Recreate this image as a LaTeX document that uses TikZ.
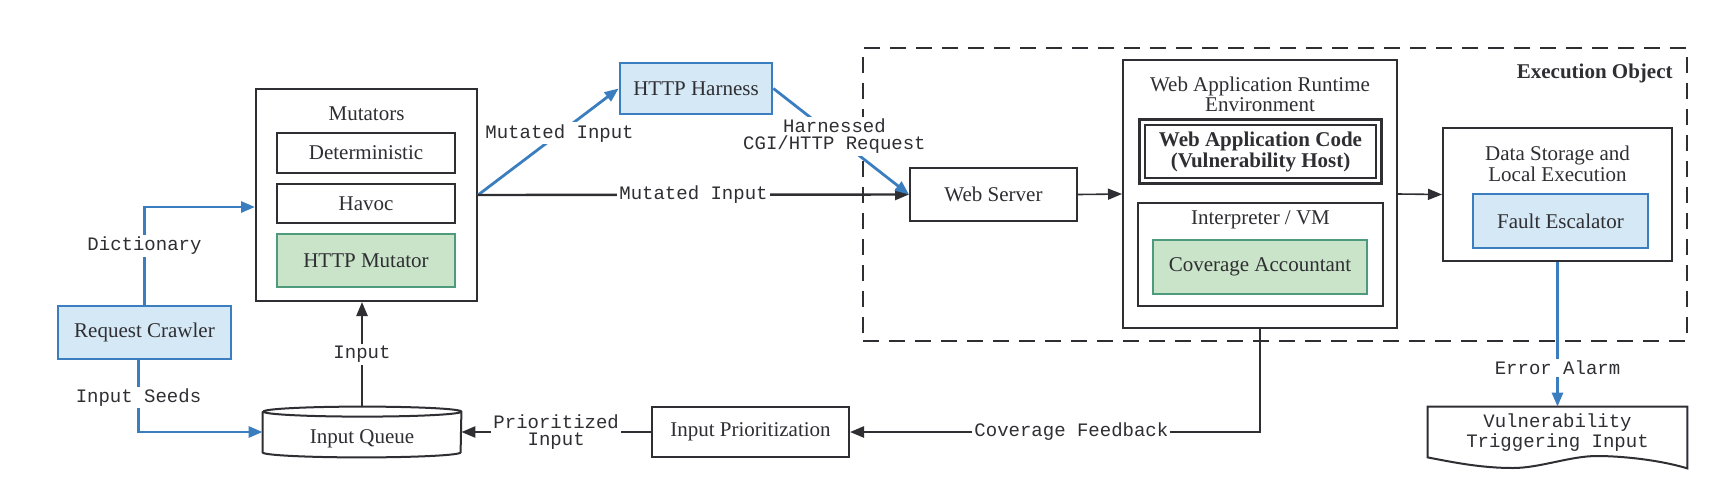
\documentclass[tikz,border=0pt]{standalone}
\usepackage{fontspec}
\setmainfont{Liberation Serif}
\setmonofont{Liberation Mono}
\usetikzlibrary{arrows.meta}
\definecolor{ink}{HTML}{2E2E33}
\definecolor{bline}{HTML}{3A7EC0}
\definecolor{bfill}{HTML}{D5E8F5}
\definecolor{gline}{HTML}{4E9A7C}
\definecolor{gfill}{HTML}{C9E4C8}
\begin{document}
\begin{tikzpicture}[x=0.5pt,y=-0.5pt,
  every node/.style={text=ink, font=\fontsize{10.5}{9}\selectfont, inner sep=0pt},
  box/.style={draw=ink, line width=1pt, fill=white},
  bbox/.style={draw=bline, line width=1.4pt, fill=bfill},
  gbox/.style={draw=gline, line width=1.4pt, fill=gfill},
  lbl/.style={font=\fontsize{9.5}{8.5}\selectfont\ttfamily, fill=white, inner sep=1pt, align=center},
  darr/.style={draw=ink, line width=1.2pt, -{Triangle[length=7pt,width=5.5pt]}},
  barr/.style={draw=bline, line width=1.4pt, -{Triangle[length=7pt,width=5.5pt]}},
]
\useasboundingbox (0,0) rectangle (1736,488);

% execution object frame
\node[draw=ink, line width=1pt, dash pattern=on 8pt off 5pt, minimum width=412pt, minimum height=146.5pt] (exec) at (1275,194.5) {};
\node[anchor=east, font=\fontsize{10.5}{9}\selectfont\bfseries] (exectitle) at (1673,73) {Execution Object};

% mutators
\node[box, minimum width=110.5pt, minimum height=106pt] (mut) at (366.5,195) {};
\node (muttitle) at (366.5,114) {Mutators};
\node[box, minimum width=89pt, minimum height=20pt] (det) at (366,153) {Deterministic};
\node[box, minimum width=89pt, minimum height=19.5pt] (hav) at (366,203.5) {Havoc};
\node[gbox, minimum width=89pt, minimum height=26.5pt] (hmut) at (366,260.5) {HTTP Mutator};

\node[bbox, minimum width=76pt, minimum height=25.5pt] (harness) at (696,88.5) {HTTP Harness};
\node[bbox, minimum width=86.5pt, minimum height=26.5pt] (crawler) at (144.5,332.5) {Request Crawler};

% input queue (cylinder)
\node[minimum width=99pt, minimum height=25pt] (queue) at (362,432) {};
\draw[box] ([yshift=-2.5pt]queue.north west) -- ([yshift=2.5pt]queue.south west)
  arc[start angle=180, end angle=360, x radius=49.5pt, y radius=2.5pt]
  -- ([yshift=-2.5pt]queue.north east)
  arc[start angle=0, end angle=180, x radius=49.5pt, y radius=2.5pt]
  arc[start angle=180, end angle=360, x radius=49.5pt, y radius=2.5pt];
\node (queuetext) at (362,439) {Input Queue};

\node[box, minimum width=98.5pt, minimum height=25pt] (prio) at (750.5,432) {Input Prioritization};

% execution object contents
\node[box, minimum width=83.5pt, minimum height=26.5pt] (ws) at (993.5,194.5) {Web Server};
\node[box, minimum width=137pt, minimum height=134pt] (wre) at (1260,194) {};
\node[align=center] (wretitle) at (1260,94) {Web Application Runtime\\Environment};
\node[draw=ink, line width=1.3pt, double=white, double distance=1.6pt, minimum width=118.3pt, minimum height=29.3pt, align=center, font=\fontsize{10.5}{9}\selectfont\bfseries] (wac) at (1260.5,151.5) {Web Application Code\\(Vulnerability Host)};
\node[box, minimum width=122.5pt, minimum height=51.5pt] (interp) at (1260.5,254.5) {};
\node (interptitle) at (1260.5,220) {Interpreter / VM};
\node[gbox, minimum width=107pt, minimum height=27pt] (cov) at (1260,267) {Coverage Accountant};
\node[box, minimum width=114.5pt, minimum height=66.5pt] (ds) at (1557.5,194.5) {};
\node[align=center] (dstitle) at (1557.5,164) {Data Storage and\\Local Execution};
\node[bbox, minimum width=87.5pt, minimum height=27pt] (fault) at (1560.5,221) {Fault Escalator};

% document shape
\node[minimum width=129.5pt, minimum height=25pt] (vti) at (1557.5,432) {};
\draw[box] (vti.north west) -- (vti.north east) -- ([yshift=-5.5pt]vti.south east)
  .. controls (1660,460) and (1622,456) .. (1597,456)
  .. controls (1570,456) and (1540,468) .. (1513,468)
  .. controls (1480,468) and (1452,462) .. (vti.south west) -- cycle;
\node[lbl, fill=none, inner sep=0pt] (vtitext) at (1557.5,432.5) {Vulnerability\\Triggering Input};

% connectors
\draw[barr] (crawler.north) |- ([yshift=-6pt]mut.west) node[lbl, pos=0.3] {Dictionary};
\draw[barr] ([xshift=-3pt]crawler.south) |- (queue.west) node[lbl, pos=0.26] {Input Seeds};
\draw[darr] (queue.north) -- (queue.north |- mut.south) node[lbl, midway] {Input};
\draw[darr] (prio.west) -- (queue.east) node[lbl, midway] {Prioritized\\Input};
\draw[darr] (wre.south) |- (prio.east) node[lbl, pos=0.73] {Coverage Feedback};
\draw[barr] (mut.east) -- (harness.west) node[lbl, pos=0.58] {Mutated Input};
\draw[darr] (mut.east) -- (ws.west) node[lbl, midway] {Mutated Input};
\draw[barr] (harness.east) -- (ws.west) node[lbl, pos=0.45] {Harnessed\\CGI/HTTP Request};
\draw[darr, line width=0.8pt] (ws.east) -- (wre.west);
\draw[darr, line width=0.8pt] (wre.east) -- (ds.west);
\draw[barr] (ds.south) -- (vti.north) node[lbl, pos=0.73] {Error Alarm};
\end{tikzpicture}
\end{document}
